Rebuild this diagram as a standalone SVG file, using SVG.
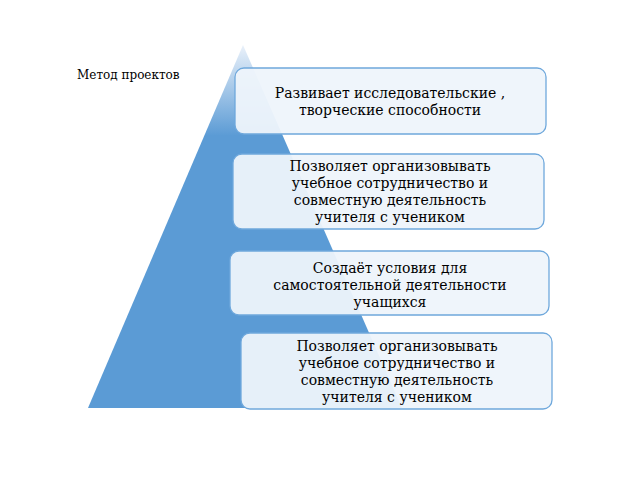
<svg xmlns="http://www.w3.org/2000/svg" width="640" height="480" viewBox="0 0 640 480">
<defs>
<linearGradient id="g" x1="0" y1="0" x2="0" y2="1">
<stop offset="0" stop-color="#eaf1fa"/><stop offset="0.25" stop-color="#5b9bd5"/><stop offset="1" stop-color="#5b9bd5"/>
</linearGradient>
<style>
.b{fill:#eef4fb;fill-opacity:0.95;stroke:#6fa8dc;stroke-width:1.3}
.t{font-family:"DejaVu Serif",serif;font-size:14px;fill:#000;text-anchor:middle}
</style>
</defs>
<rect width="640" height="480" fill="#fff"/>
<g id="pyramid"><polygon points="243,45 88,408 402,408" fill="url(#g)"/></g>
<text x="77" y="79" style="font-family:'DejaVu Serif',serif;font-size:12px">Метод проектов</text>
<g id="connectors"/>
<g id="n1"><rect class="b" x="235" y="68" width="311" height="66" rx="9"/>
<text class="t" x="390" y="98">Развивает исследовательские ,</text><text class="t" x="390" y="115">творческие способности</text></g>
<g id="n2"><rect class="b" x="233" y="154" width="311" height="75" rx="9"/>
<text class="t" x="390" y="171">Позволяет организовывать</text><text class="t" x="390" y="188">учебное сотрудничество и</text><text class="t" x="390" y="205">совместную деятельность</text><text class="t" x="390" y="222">учителя с учеником</text></g>
<g id="n3"><rect class="b" x="230" y="251" width="319" height="64" rx="9"/>
<text class="t" x="390" y="273">Создаёт условия для</text><text class="t" x="390" y="290">самостоятельной деятельности</text><text class="t" x="390" y="307">учащихся</text></g>
<g id="n4"><rect class="b" x="241" y="333" width="311" height="76" rx="9"/>
<text class="t" x="397" y="351">Позволяет организовывать</text><text class="t" x="397" y="368">учебное сотрудничество и</text><text class="t" x="397" y="385">совместную деятельность</text><text class="t" x="397" y="402">учителя с учеником</text></g>
</svg>
